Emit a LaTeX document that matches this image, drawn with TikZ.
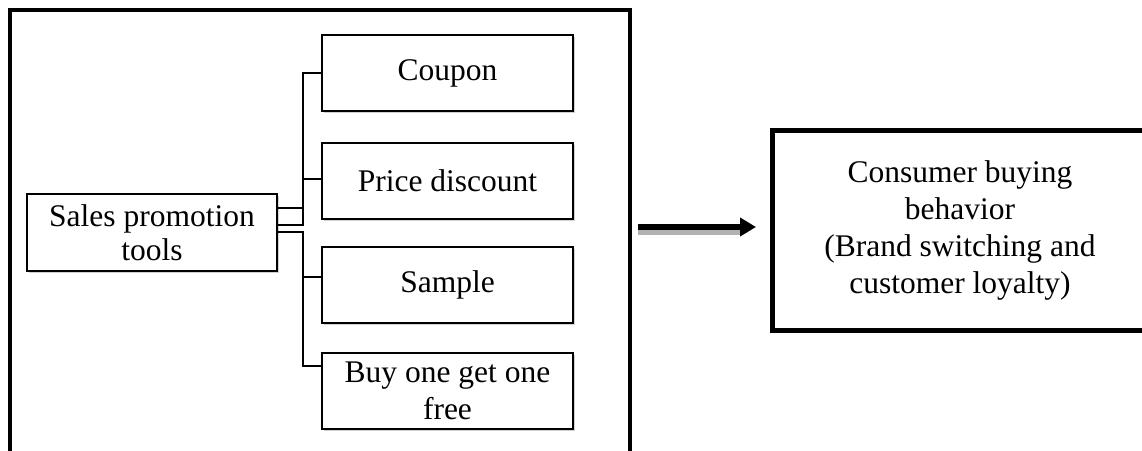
\documentclass[tikz,border=0pt]{standalone}
\usepackage{fontspec}
\setmainfont{Liberation Serif}
\usetikzlibrary{arrows.meta,shadows}
\begin{document}
\begin{tikzpicture}[x=1pt,y=1pt,
  txt/.style={font=\fontsize{31.5}{37}\selectfont, align=center, inner sep=0pt},
  box/.style={txt, draw, line width=2pt, fill=white,
    drop shadow={shadow xshift=1.5pt, shadow yshift=-2pt, fill=black, opacity=0.18}},
  child/.style={box, minimum width=251pt, minimum height=76pt},
  conn/.style={line width=2.6pt, line join=miter},
  frame/.style={line width=4.6pt, line join=miter}]
\useasboundingbox (0,0) rectangle (1142,450);

% outer frame (open at the bottom)
\draw[frame] (10,-10) -- (10,440) -- (630,440) -- (630,-10);

% nodes
\node[box, minimum width=250pt, minimum height=77pt, font=\fontsize{31.5}{34}\selectfont] (sp) at (152,217.5) {Sales promotion\\tools};
\node[child] (cp) at (447.5,377) {Coupon};
\node[child] (pd) at (447.5,269) {Price discount};
\node[child] (sm) at (447.5,165) {Sample};
\node[child] (bg) at (447.5,59) {Buy one get one\\free};

\node[txt, draw, line width=5pt, minimum width=376pt, minimum height=199pt] (cb) at (960,219.5) {Consumer buying\\behavior\\(Brand switching and\\customer loyalty)};

% elbow connectors
\draw[conn] ([yshift=7.5pt]sp.east) -- ++(25,0) |- (cp.west);
\draw[conn] ([yshift=24.5pt]sp.east) -- ++(25,0) |- ([yshift=2pt]pd.west);
\draw[conn] ([yshift=0.5pt]sp.east) -- ++(25,0) |- ([yshift=8pt]sm.west);
\draw[conn] ([yshift=0.5pt]sp.east) -- ++(25,0) |- ([yshift=25pt]bg.west);

% arrow
\coordinate (a1) at (638,223);
\coordinate (a2) at (756,223);
\draw[gray!60, line width=5pt] ([yshift=-5.5pt]a1) -- ([yshift=-5.5pt,xshift=-14pt]a2);
\draw[line width=6pt, -{Triangle[length=16pt,width=18pt]}] (a1) -- (a2);
\end{tikzpicture}
\end{document}
